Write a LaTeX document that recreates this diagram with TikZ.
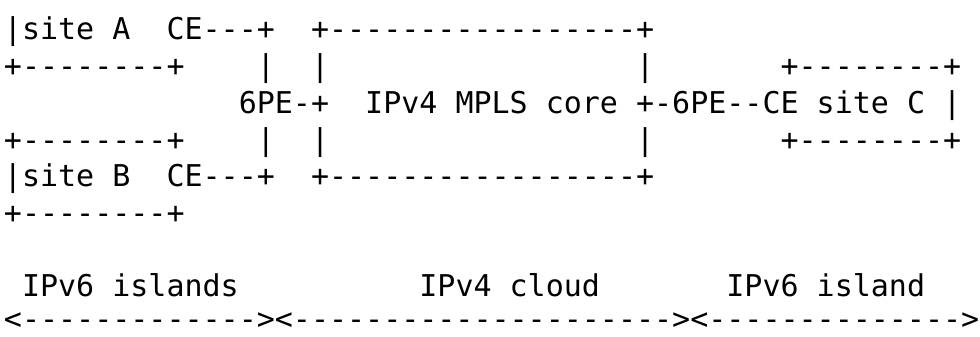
\documentclass[tikz,border=0pt]{standalone}
\usepackage{fontspec}
\setmonofont{DejaVu Sans Mono}
\begin{document}
\begin{tikzpicture}[x=1pt,y=-1pt,
  txt/.style={anchor=base west,inner sep=0pt,outer sep=0pt,font=\fontsize{30}{36}\selectfont\ttfamily}]
\useasboundingbox[fill=white] (0,0) rectangle (980,337);
\def\cw{18.06}
\def\px#1{4+#1*\cw}
\def\rowy#1{40+#1*36.7}
% row 0
\node[txt] (a0) at ({\px{0}},{\rowy{0}}) {|site A};
\node[txt] (a1) at ({\px{9}},{\rowy{0}}) {CE---+};
\node[txt] (a2) at ({\px{17}},{\rowy{0}}) {+-----------------+};
% row 1
\node[txt] (b0) at ({\px{0}},{\rowy{1}}) {+--------+};
\node[txt] (b1) at ({\px{14}},{\rowy{1}}) {|};
\node[txt] (b2) at ({\px{17}},{\rowy{1}}) {|};
\node[txt] (b3) at ({\px{35}},{\rowy{1}}) {|};
\node[txt] (b4) at ({\px{43}},{\rowy{1}}) {+--------+};
% row 2
\node[txt] (c0) at ({\px{13}},{\rowy{2}}) {6PE-+};
\node[txt] (c1) at ({\px{20}},{\rowy{2}}) {IPv4 MPLS core};
\node[txt] (c2) at ({\px{35}},{\rowy{2}}) {+-6PE--CE};
\node[txt] (c3) at ({\px{45}},{\rowy{2}}) {site C};
\node[txt] (c4) at ({\px{52}},{\rowy{2}}) {|};
% row 3
\node[txt] (d0) at ({\px{0}},{\rowy{3}}) {+--------+};
\node[txt] (d1) at ({\px{14}},{\rowy{3}}) {|};
\node[txt] (d2) at ({\px{17}},{\rowy{3}}) {|};
\node[txt] (d3) at ({\px{35}},{\rowy{3}}) {|};
\node[txt] (d4) at ({\px{43}},{\rowy{3}}) {+--------+};
% row 4
\node[txt] (e0) at ({\px{0}},{\rowy{4}}) {|site B};
\node[txt] (e1) at ({\px{9}},{\rowy{4}}) {CE---+};
\node[txt] (e2) at ({\px{17}},{\rowy{4}}) {+-----------------+};
% row 5
\node[txt] (f0) at ({\px{0}},{\rowy{5}}) {+--------+};
% row 7
\node[txt] (g0) at ({\px{1}},{\rowy{7}}) {IPv6 islands};
\node[txt] (g1) at ({\px{23}},{\rowy{7}}) {IPv4 cloud};
\node[txt] (g2) at ({\px{40}},{\rowy{7}}) {IPv6 island};
% row 8
\node[txt] (h0) at ({\px{0}},{329}) {<-------------><---------------------><-------------->};
\end{tikzpicture}
\end{document}
